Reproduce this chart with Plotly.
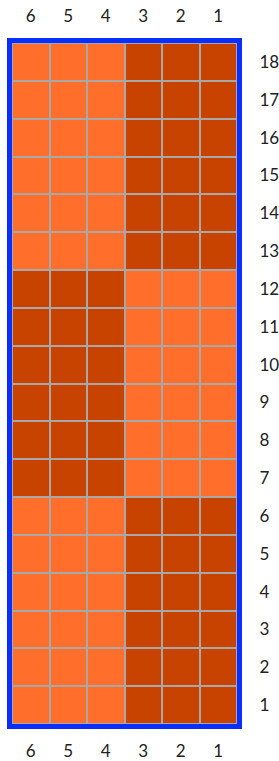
import plotly.graph_objects as go

columns = [6, 5, 4, 3, 2, 1]
rows = list(range(1, 19))
# 1 = dark orange, 0 = light orange ; z[row_index][col_index], rows 1..18, cols in order 6..1
block_a = [0, 0, 0, 1, 1, 1]
block_b = [1, 1, 1, 0, 0, 0]
z = [block_a] * 6 + [block_b] * 6 + [block_a] * 6

light = "#FF6E2B"
dark = "#C84300"

fig = go.Figure()
fig.add_trace(go.Heatmap(
    x=columns, y=rows, z=z,
    colorscale=[[0, light], [1, dark]], zmin=0, zmax=1,
    showscale=False, xgap=2, ygap=2, hoverinfo="skip",
))
fig.add_trace(go.Scatter(x=[6], y=[1], xaxis="x2", mode="markers",
                         marker=dict(opacity=0), showlegend=False, hoverinfo="skip"))

font = dict(family="Century Gothic, URW Gothic, Lato, sans-serif", size=17, color="#222222")
axis_common = dict(
    type="linear", range=[6.5, 0.5], autorange=False, automargin=False,
    tickmode="array", tickvals=columns, ticktext=[str(c) for c in columns],
    showgrid=False, zeroline=False, tickfont=font,
    ticks="outside", tickcolor="rgba(0,0,0,0)",
)
fig.update_layout(
    width=279, height=761,
    margin=dict(l=12, r=42, t=43, b=37),
    paper_bgcolor="white", plot_bgcolor="#A8A8A8",
    showlegend=False,
    xaxis=dict(**axis_common, side="bottom", ticklen=8, showline=True, linecolor="#0A2EFF",
               linewidth=5, mirror=True),
    xaxis2=dict(**axis_common, side="top", ticklen=13, overlaying="x", matches="x"),
    yaxis=dict(tickmode="array", tickvals=rows, ticktext=[str(r) for r in rows],
               side="right", showgrid=False, zeroline=False, tickfont=font,
               ticks="outside", ticklen=14, tickcolor="rgba(0,0,0,0)", automargin=False,
               showline=True, linecolor="#0A2EFF", linewidth=5, mirror=True,
               range=[0.5, 18.5], autorange=False),
)
fig.write_html(
    "out.html",
    config={"displayModeBar": False},
    post_script="document.body.style.margin='0';document.documentElement.style.overflow='hidden';",
)
